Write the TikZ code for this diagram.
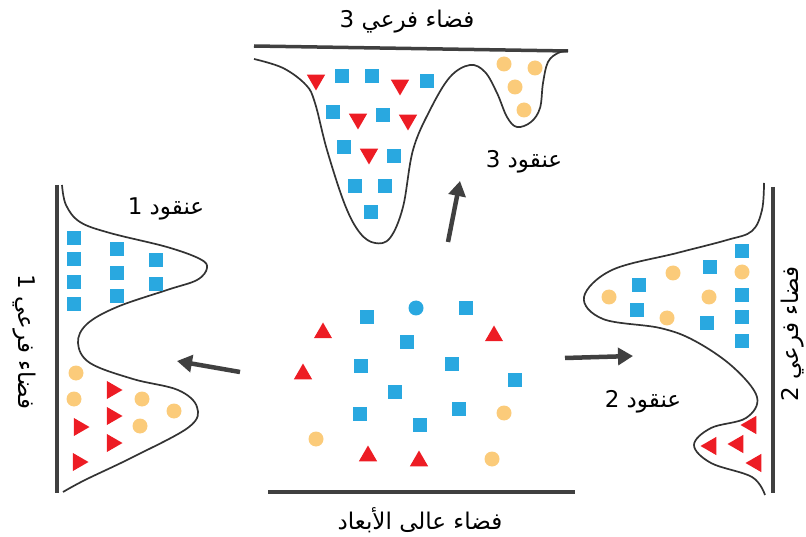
\documentclass[tikz,border=0pt]{standalone}
\usepackage{fontspec}
\usetikzlibrary{arrows.meta,shapes.geometric}
\newfontfamily\arabicfont[Script=Arabic]{DejaVu Sans}
\TeXXeTstate=1
\definecolor{myblue}{HTML}{29A8E0}
\definecolor{myred}{HTML}{ED1C24}
\definecolor{myorange}{HTML}{FBCB7A}
\definecolor{lineg}{HTML}{404040}
\definecolor{curveg}{HTML}{333333}
\tikzset{
  sq/.style={rectangle,fill=myblue,minimum size=14pt,inner sep=0pt},
  bdot/.style={circle,fill=myblue,minimum size=15pt,inner sep=0pt},
  odot/.style={circle,fill=myorange,minimum size=15pt,inner sep=0pt},
  tri/.style={regular polygon,regular polygon sides=3,fill=myred,minimum size=21pt,inner sep=0pt},
  baseline/.style={line width=3.5pt,draw=lineg},
  curve/.style={line width=1.7pt,draw=curveg,smooth,tension=0.6},
  arr/.style={line width=4.5pt,draw=lineg,-{Triangle[length=15pt,width=17pt]}},
  lbl/.style={font=\arabicfont\fontsize{23}{26}\selectfont,text=black,inner sep=0pt}
}
\begin{document}
\begin{tikzpicture}[x=1pt,y=-1pt]
\useasboundingbox (0,0) rectangle (806,537);
% base lines
\coordinate (t1) at (254,46); \coordinate (t2) at (568,51);
\draw[baseline] (t1) -- (t2);
\coordinate (l1) at (57,185); \coordinate (l2) at (57,493);
\draw[baseline,line width=4pt] (l1) -- (l2);
\coordinate (r1) at (773,187); \coordinate (r2) at (773,493);
\draw[baseline,line width=4pt] (r1) -- (r2);
\coordinate (b1) at (268,492); \coordinate (b2) at (575,492);
\draw[baseline] (b1) -- (b2);
% curves
\draw[curve] plot coordinates {(254,59) (283,68) (306,85) (315,103) (327,150) (345,205) (360,233) (375,243) (390,238) (403,207) (413,150) (430,110) (450,77) (470,65) (485,72) (497,93) (507,117) (517,127) (531,122) (540,108) (543,83) (548,62) (558,53) (568,51)};
\draw[curve] plot coordinates {(62,185) (66,205) (80,222) (110,233) (167,247) (200,259) (207,268) (197,280) (167,290) (117,307) (87,324) (78,343) (90,363) (133,379) (178,390) (197,407) (189,427) (133,457) (85,480) (63,492)};
\draw[curve] plot coordinates {(764,183) (762,210) (752,231) (727,240) (677,253) (612,270) (584,297) (603,319) (660,328) (695,341) (733,367) (757,397) (746,418) (711,428) (694,445) (711,463) (752,477) (765,495)};
% arrows
\coordinate (a1s) at (240,372); \coordinate (a1e) at (177,361);
\draw[arr] (a1s) -- (a1e);
\coordinate (a2s) at (565,358); \coordinate (a2e) at (633,356);
\draw[arr] (a2s) -- (a2e);
\coordinate (a3s) at (448,242); \coordinate (a3e) at (460,181);
\draw[arr] (a3s) -- (a3e);
% labels
\node[lbl] (lt) at (407,22) {\beginR فضاء فرعي 3\endR};
\node[lbl] (c3) at (524,162) {\beginR عنقود 3\endR};
\node[lbl] (c1) at (166,209) {\beginR عنقود 1\endR};
\node[lbl] (c2) at (643,402) {\beginR عنقود 2\endR};
\node[lbl] (lb) at (420,520) {\beginR فضاء عالى الأبعاد\endR};
\node[lbl,rotate=-90] (ll) at (24,342) {\beginR فضاء فرعي 1\endR};
\node[lbl,rotate=90] (lr) at (793,334) {\beginR فضاء فرعي 2\endR};
% top markers
\foreach \p in {(316,80),(400,85),(358,119),(408,120),(369,154)} \node[tri,shape border rotate=180] at \p {};
\foreach \p in {(342,76),(372,76),(427,81),(333,112),(383,115),(344,147),(394,156),(355,186),(385,186),(371,212)} \node[sq] at \p {};
\foreach \p in {(504,64),(535,68),(515,87),(524,110)} \node[odot] at \p {};
% left markers
\foreach \p in {(74,238),(74,259),(74,282),(74,304),(117,249),(117,273),(117,296),(156,260),(156,284)} \node[sq] at \p {};
\foreach \p in {(76,373),(74,399),(142,399),(174,411),(140,426)} \node[odot] at \p {};
\foreach \p in {(112,390),(112,416),(112,443),(79,427),(78,462)} \node[tri,shape border rotate=-90] at \p {};
% right markers
\foreach \p in {(742,251),(710,267),(639,285),(742,295),(637,310),(742,317),(707,323),(742,341)} \node[sq] at \p {};
\foreach \p in {(742,272),(673,273),(609,297),(709,297),(667,318)} \node[odot] at \p {};
\foreach \p in {(751,425),(711,446),(738,444),(756,463)} \node[tri,shape border rotate=90] at \p {};
% centre markers
\node[bdot] at (416,308) {};
\foreach \p in {(367,317),(466,308),(407,342),(361,366),(452,364),(515,380),(395,392),(360,414),(459,409),(420,425)} \node[sq] at \p {};
\foreach \p in {(323,333),(494,336),(303,374),(368,456),(419,461)} \node[tri] at \p {};
\foreach \p in {(504,413),(316,439),(492,459)} \node[odot] at \p {};
\end{tikzpicture}
\end{document}
